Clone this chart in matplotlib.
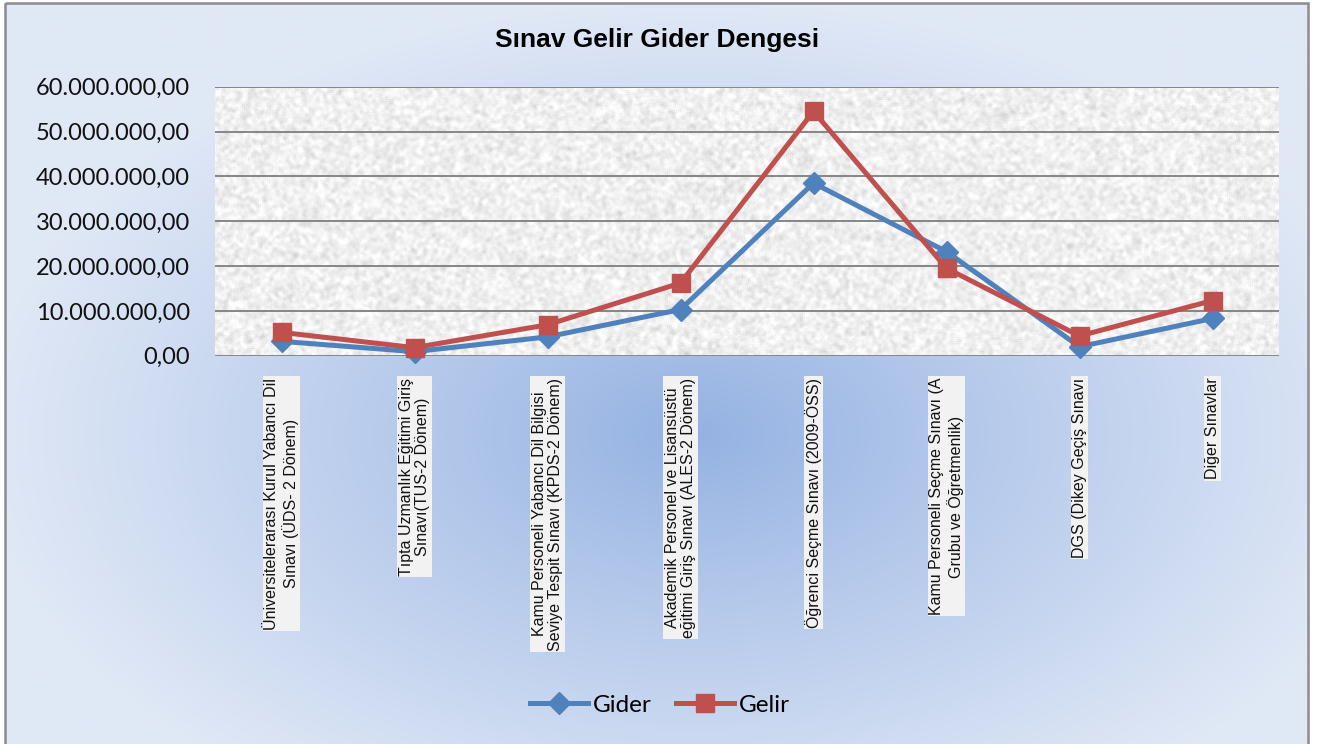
import numpy as np
import matplotlib
matplotlib.use("Agg")
import matplotlib.pyplot as plt
from matplotlib.lines import Line2D
from matplotlib.patches import Rectangle
from matplotlib.ticker import FuncFormatter, MultipleLocator

# ---------------- data ----------------
categories = [
    "Üniversitelerarası Kurul Yabancı Dil\nSınavı (ÜDS- 2 Dönem)",
    "Tıpta Uzmanlık Eğitimi Giriş\nSınavı(TUS-2 Dönem)",
    "Kamu Personeli Yabancı Dil Bilgisi\nSeviye Tespit Sınavı (KPDS-2 Dönem)",
    "Akademik Personel ve Lisansüstü\neğitimi Giriş Sınavı (ALES-2 Dönem)",
    "Öğrenci Seçme Sınavı (2009-ÖSS)",
    "Kamu Personeli Seçme Sınavı (A\nGrubu ve Öğretmenlik)",
    "DGS (Dikey Geçiş Sınavı",
    "Diğer Sınavlar",
]
gider = [3.2e6, 0.9e6, 4.2e6, 10.3e6, 38.5e6, 23.2e6, 2.0e6, 8.3e6]
gelir = [5.2e6, 1.8e6, 6.9e6, 16.2e6, 54.5e6, 19.5e6, 4.4e6, 12.3e6]
title = "Sınav Gelir Gider Dengesi"
series_names = ["Gider", "Gelir"]

W, H = 1325, 744
fig = plt.figure(figsize=(W / 100, H / 100), dpi=100)
fig.patch.set_facecolor("white")

# ---------- background radial gradient (chart area) ----------
bg = fig.add_axes([0, 0, 1, 1])
bg.set_xlim(0, W)
bg.set_ylim(H, 0)
bg.axis("off")
yy, xx = np.mgrid[0:H, 0:W]
r = np.sqrt(((xx - 700) / 720.0) ** 2 + ((yy - 430) / 430.0) ** 2)
t = np.clip(r, 0, 1) ** 0.9
inner = np.array([0x93, 0xb1, 0xe2]) / 255.0
outer = np.array([0xe0, 0xe8, 0xf6]) / 255.0
img = inner[None, None, :] * (1 - t[..., None]) + outer[None, None, :] * t[..., None]
bg.imshow(img, extent=(5, 1308, H + 5, 3), aspect="auto", zorder=0)
bg.add_patch(Rectangle((5, 3), 1303, H + 10, fill=False, edgecolor="#8c8c8c",
                       linewidth=1.8, zorder=2))
bg.set_xlim(0, W)
bg.set_ylim(H, 0)

# ---------- main axes ----------
left, right = 215 / W, 1279 / W
bottom, top = 1 - 355.7 / H, 1 - 86.7 / H
ax = fig.add_axes([left, bottom, right - left, top - bottom])
ax.set_facecolor("#f0f0f0")

# textured plot-area fill (decorative)
rng = np.random.default_rng(3)
nz = rng.normal(size=(270, 1066))
sm = np.zeros_like(nz)
for dy in range(-2, 3):
    for dx in range(-2, 3):
        sm += np.roll(np.roll(nz, dy, 0), dx, 1)
sm /= 25.0
sm = (sm - sm.mean()) / sm.std()
tex = 0.94 + 0.027 * sm + 0.012 * nz
ax.imshow(tex, cmap="gray", vmin=0, vmax=1, extent=(0, 1, 0, 1),
          transform=ax.transAxes, aspect="auto", zorder=0, interpolation="bilinear")

x = np.arange(len(categories))
ax.set_xlim(-0.5, len(categories) - 0.5)
ax.set_ylim(0, 60e6)
ax.yaxis.set_major_locator(MultipleLocator(10e6))
ax.yaxis.set_major_formatter(FuncFormatter(
    lambda v, p: f"{v:,.2f}".replace(",", "X").replace(".", ",").replace("X", ".")))
ax.grid(axis="y", color="#868686", linewidth=1.4, zorder=1)
ax.set_axisbelow(True)
for s in ax.spines.values():
    s.set_visible(False)
ax.tick_params(axis="y", length=0, pad=18, labelsize=17, labelcolor="#111111")
ax.tick_params(axis="x", length=0, labelbottom=False)
for lab in ax.get_yticklabels():
    lab.set_fontfamily(["Lato", "DejaVu Sans"])

ax.plot(x, gider, color="#4f81bd", linewidth=3.6, marker="D", markersize=11,
        zorder=3, clip_on=False, solid_joinstyle="round")
ax.plot(x, gelir, color="#c0504d", linewidth=3.6, marker="s", markersize=13.5,
        zorder=4, clip_on=False, solid_joinstyle="round")

# category labels
for i, c in enumerate(categories):
    ax.text(i, -22 / 269.0, c, rotation=90, ha="center", va="top",
            multialignment="center", fontsize=11.5,
            fontfamily=["Liberation Sans", "DejaVu Sans"], color="#111111",
            transform=ax.get_xaxis_transform(), linespacing=1.15,
            bbox=dict(boxstyle="square,pad=0.08", facecolor="#f2f2f2", edgecolor="none"))

# title
fig.text(657 / W, 1 - 40 / H, title, ha="center", va="center", fontsize=19,
         fontweight="bold", fontfamily=["Liberation Sans", "DejaVu Sans"], color="#000000")

# legend
handles = [
    Line2D([], [], color="#4f81bd", linewidth=3.6, marker="D", markersize=11),
    Line2D([], [], color="#c0504d", linewidth=3.6, marker="s", markersize=13.5),
]
fig.legend(handles, series_names, loc="center", bbox_to_anchor=(660 / W, 1 - 705 / H),
           ncol=2, frameon=False, handlelength=2.4, handletextpad=0.2, columnspacing=1.0,
           prop={"family": ["Lato", "DejaVu Sans"], "size": 17.5})

fig.savefig("out.png", dpi=100)
